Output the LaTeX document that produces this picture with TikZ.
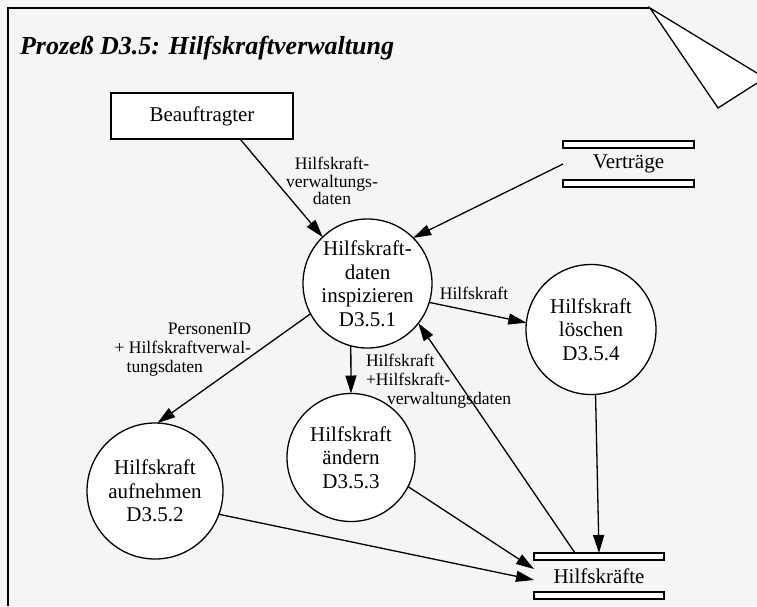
\documentclass[tikz,border=0pt]{standalone}
\usepackage{fontspec}
\setmainfont{Liberation Serif}
\usetikzlibrary{arrows.meta}
\definecolor{paper}{HTML}{F5F5F5}
\begin{document}
\begin{tikzpicture}[x=1pt,y=-1pt,
  every node/.style={inner sep=0pt, outer sep=0pt},
  base/.style={line width=1.3pt, draw=black},
  nodefont/.style={font=\fontsize{21}{23.5}\selectfont},
  labelfont/.style={font=\fontsize{17.6}{19}\selectfont},
  process/.style={base, circle, fill=white, nodefont, align=center},
  terminator/.style={base, rectangle, fill=white, nodefont,
    minimum width=182pt, minimum height=46pt},
  datastore/.style={nodefont, minimum height=46pt},
  bar/.style={base, fill=white},
  flow/.style={line width=1.3pt, -{Triangle[length=18pt,width=11pt]}},
  flowlabel/.style={labelfont}
]
% page background and clipping area
\fill[paper] (0,0) rectangle (757,606);
\useasboundingbox (0,0) rectangle (757,606);
\clip (0,0) rectangle (757,606);

% frame with folded corner
\draw[base] (8,606) -- (8,8) -- (650,8);
\filldraw[base, fill=white, line join=miter] (650,8) -- (765,78) -- (718,108) -- cycle;

% title
\node[anchor=base west, font=\fontsize{26}{30}\selectfont\bfseries\itshape]
  (title) at (20,54) {Prozeß D3.5: Hilfskraftverwaltung};

% external entity
\node[terminator] (bf) at (202,116) {Beauftragter};

% data stores
\node[datastore, minimum width=131pt] (vt) at (628.5,164) {Verträge};
\draw[bar] (vt.north west) rectangle ++(131,7);
\draw[bar] (vt.south west) rectangle ++(131,-7);

\node[datastore, minimum width=130pt] (hk) at (599,576) {Hilfskräfte};
\draw[bar] (hk.north west) rectangle ++(130,7);
\draw[bar] (hk.south west) rectangle ++(130,-7);

% processes
\node[process, minimum size=129pt] (c1) at (367.5,283.5) {Hilfskraft-\\daten\\inspizieren\\D3.5.1};
\node[process, minimum size=136pt] (c2) at (155,491) {Hilfskraft\\aufnehmen\\D3.5.2};
\node[process, minimum size=128pt] (c3) at (351,457.5) {Hilfskraft\\ändern\\D3.5.3};
\node[process, minimum size=130pt] (c4) at (591,329.5) {Hilfskraft\\löschen\\D3.5.4};

% data flows
\draw[flow] ([xshift=38pt]bf.south) -- (c1.134);
\draw[flow] (vt.west) -- (c1.45);
\draw[flow] (c1.-17) -- (c4.174);
\draw[flow] (c1.-105) -- (c3.north);
\draw[flow] (c1.-152.6) -- (c2.88);
\draw[flow] ([xshift=-24pt]hk.north) -- (c1.-38);
\draw[flow] (c4.-86) -- (hk.north);
\draw[flow] (c3.-27) -- ([yshift=7pt]hk.west);
\draw[flow] (c2.-20.6) -- ([yshift=-4pt]hk.west);

% flow labels
\node[flowlabel, align=center, font=\fontsize{17.6}{17.5}\selectfont] (l1) at (332,181)
  {Hilfskraft-\\verwaltungs-\\daten};
\node[flowlabel] (l2) at (474,293) {Hilfskraft};
\node[flowlabel, align=left, anchor=west] (l3) at (366,381.5)
  {Hilfskraft\\+Hilfskraft-\\\hspace*{21pt}verwaltungsdaten};
\node[flowlabel, align=right, anchor=east] (l4) at (251,350)
  {PersonenID\\+ Hilfskraftverwal-\\tungsdaten\hspace*{48pt}};
\end{tikzpicture}
\end{document}
